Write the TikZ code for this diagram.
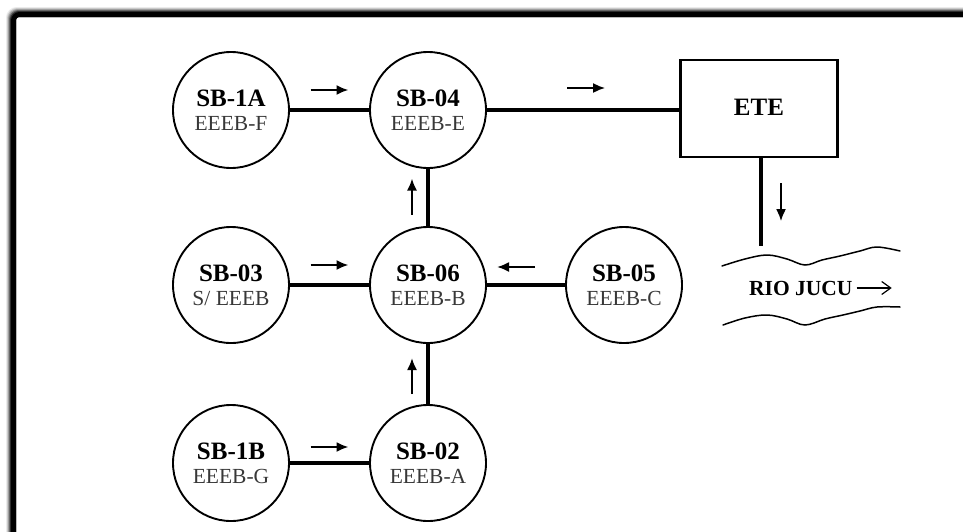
\documentclass[tikz,border=0pt]{standalone}
\usepackage{fontspec}
\setmainfont{Liberation Serif}
\usetikzlibrary{arrows.meta,calc}
\newcommand\sttitle[1]{{\fontsize{25}{25}\selectfont\bfseries\color{black}#1}}
\begin{document}
\begin{tikzpicture}[x=1pt,y=-1pt,
  station/.style={circle,draw,line width=1.9pt,minimum size=116pt,inner sep=0pt,
    align=center,font=\fontsize{21.5}{24}\selectfont,text=black!78},
  plant/.style={rectangle,draw,line width=2.3pt,minimum width=157pt,minimum height=97pt,
    inner sep=0pt,font=\fontsize{25}{25}\selectfont\bfseries},
  pipe/.style={line width=3.1pt},
  flow/.style={line width=2pt,-{Latex[length=12pt,width=10pt]}},
  wave/.style={line width=1.5pt,line cap=round},
]
\useasboundingbox (0,0) rectangle (963,531);

% frame: black band with a soft outer edge
\foreach \w/\o in {10/0.08,9/0.14,8/0.22,7/0.35,6/0.55,5/1}{
  \pgfmathsetmacro\c{16-\w/2}
  \draw[line width=\w pt,black,opacity=\o,rounded corners=6pt]
    (\c,560) -- (\c,\c+1) -- (990,\c+1);
}

% stations
\node[station] (sb1a) at (231,110) {\sttitle{SB-1A}\\EEEB-F};
\node[station] (sb04) at (428,110) {\sttitle{SB-04}\\EEEB-E};
\node[station] (sb03) at (231,285) {\sttitle{SB-03}\\S/ EEEB};
\node[station] (sb06) at (428,285) {\sttitle{SB-06}\\EEEB-B};
\node[station] (sb05) at (624,285) {\sttitle{SB-05}\\EEEB-C};
\node[station] (sb1b) at (231,463) {\sttitle{SB-1B}\\EEEB-G};
\node[station] (sb02) at (428,463) {\sttitle{SB-02}\\EEEB-A};

% treatment plant
\node[plant] (ete) at (759,108.5) {\raisebox{3pt}{ETE}};

% pipes
\draw[pipe] (sb1a) -- (sb04);
\draw[pipe] (sb04.east) -- (sb04.east -| ete.west);
\draw[pipe] (sb06) -- (sb04);
\draw[pipe] (sb03) -- (sb06);
\draw[pipe] (sb05) -- (sb06);
\draw[pipe] (sb02) -- (sb06);
\draw[pipe] (sb1b) -- (sb02);
\coordinate (outfall) at (761,246);
\draw[line width=3.6pt] (ete.south -| outfall) -- (outfall);

% flow directions
\draw[flow] ($(sb1a)!0.5!(sb04)+(-19,-20)$) -- ++(38,0);
\draw[flow] ($(sb04.east)!0.5!(ete.west |- sb04.east)+(-16,-22)$) -- ++(38,0);
\draw[flow] ($(sb03)!0.5!(sb06)+(-19,-20)$) -- ++(38,0);
\draw[flow] ($(sb05)!0.5!(sb06)+(9,-18)$) -- ++(-38,0);
\draw[flow] ($(sb1b)!0.5!(sb02)+(-19,-16)$) -- ++(38,0);
\draw[flow] ($(sb04)!0.5!(sb06)+(-16,17)$) -- ++(0,-36);
\draw[flow] ($(sb06)!0.5!(sb02)+(-16,20)$) -- ++(0,-36);
\draw[flow] ($(ete.south)+(22,25)$) -- ++(0,38);

% river
\draw[wave] plot[smooth,tension=0.6] coordinates
  {(722,266) (745,259) (767,255) (787,259) (805,265) (822,260) (840,256) (860,251) (877,247) (900,251)};
\draw[wave] plot[smooth,tension=0.6] coordinates
  {(723,325) (745,318) (767,315) (787,319) (805,325) (825,319) (843,315) (860,311) (877,307) (900,307)};
\node[anchor=base west,inner sep=0pt,font=\fontsize{21.5}{21.5}\selectfont\bfseries] (rio) at (749,295) {RIO JUCU};
\draw[line width=1.2pt,-{Straight Barb[length=9pt,width=13pt]}] ([xshift=4pt]rio.east) -- ++(35,0);
\end{tikzpicture}
\end{document}
